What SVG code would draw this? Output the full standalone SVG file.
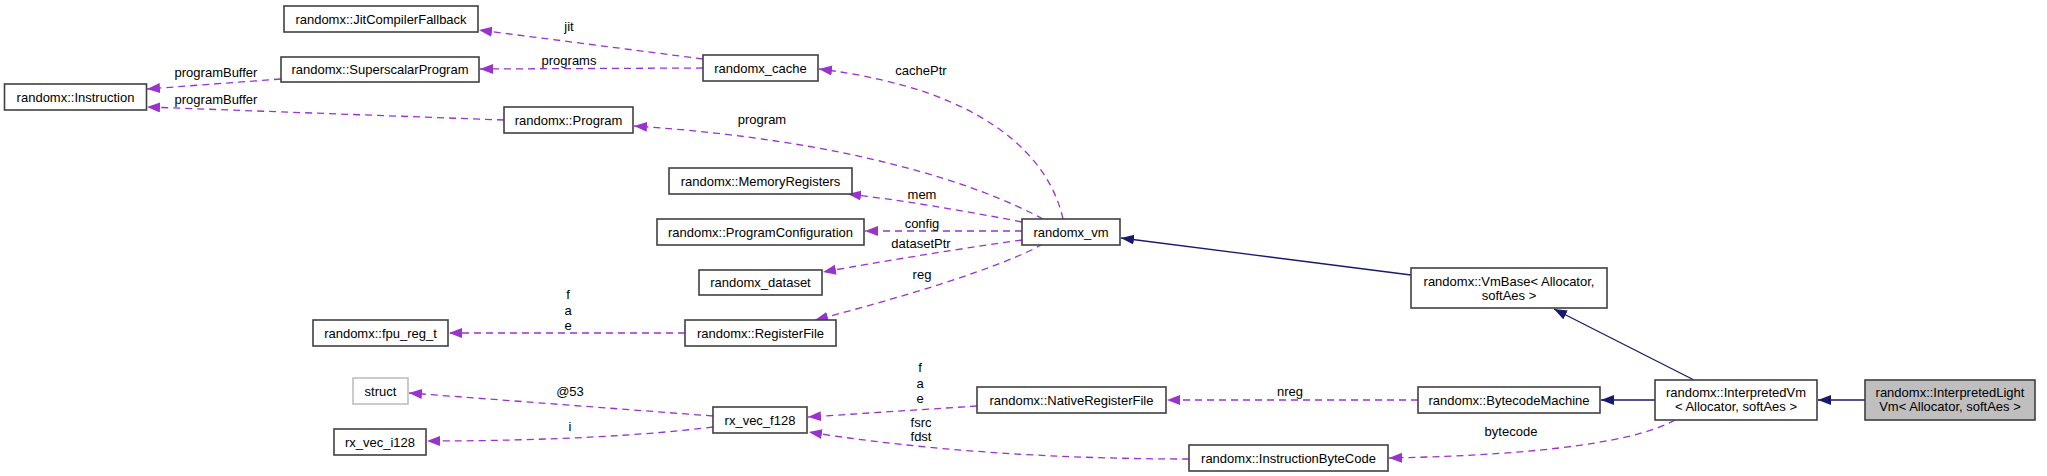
<svg xmlns="http://www.w3.org/2000/svg" width="2047" height="476" viewBox="0 0 2047 476">
<style>
text{font-family:"Liberation Sans",Arial,sans-serif;font-size:13px;fill:#000;text-anchor:middle}
.n rect{fill:#fff;stroke:#404040;stroke-width:1.6}
.n.g rect{stroke:#bfbfbf}
.n.h rect{fill:#bfbfbf}
.u{fill:none;stroke:#9a32cd;stroke-width:1.3;stroke-dasharray:7,5;marker-end:url(#ap)}
.i{fill:none;stroke:#191970;stroke-width:1.3;marker-end:url(#ab)}
</style>
<defs>
<marker id="ap" markerUnits="userSpaceOnUse" markerWidth="14" markerHeight="11" refX="13" refY="5" orient="auto"><path d="M0,0 L13,5 L0,10 z" fill="#9a32cd"/></marker>
<marker id="ab" markerUnits="userSpaceOnUse" markerWidth="14" markerHeight="11" refX="13" refY="5" orient="auto"><path d="M0,0 L13,5 L0,10 z" fill="#191970"/></marker>
</defs>
<rect width="2047" height="476" fill="#fff"/>
<g id="edges">
<path class="i" d="M1865,400 L1818,400"/>
<path class="i" d="M1655,400 L1601,400"/>
<path class="i" d="M1694,380 L1554,309"/>
<path class="i" d="M1411,275 L1121,238"/>
<path class="u" d="M703,59 L479,30"/>
<text x="569" y="31">jit</text>
<path class="u" d="M703,68 L480,69"/>
<text x="569" y="65">programs</text>
<path class="u" d="M281,79 L147,89"/>
<text x="216" y="77">programBuffer</text>
<path class="u" d="M504,120 L147,107"/>
<text x="216" y="104">programBuffer</text>
<path class="u" d="M1063,219 C1050,160 990,90 819,69"/>
<text x="921" y="75">cachePtr</text>
<path class="u" d="M1043,219 C980,185 850,140 634,126"/>
<text x="762" y="124">program</text>
<path class="u" d="M1022,222 C960,210 900,200 848,194"/>
<text x="922" y="199">mem</text>
<path class="u" d="M1022,231 L865,231"/>
<text x="922" y="228">config</text>
<path class="u" d="M1022,240 C950,250 880,262 823,272"/>
<text x="921" y="248">datasetPtr</text>
<path class="u" d="M1043,244 C1000,268 900,298 815,320"/>
<text x="922" y="279">reg</text>
<path class="u" d="M685,333 L449,333"/>
<text x="568" y="299">f</text>
<text x="568" y="315">a</text>
<text x="568" y="330">e</text>
<path class="u" d="M713,416 L409,393"/>
<text x="570" y="396">@53</text>
<path class="u" d="M713,427 C650,435 550,441 427,441"/>
<text x="570" y="431">i</text>
<path class="u" d="M977,406 L808,417"/>
<text x="920" y="372">f</text>
<text x="920" y="388">a</text>
<text x="920" y="403">e</text>
<path class="u" d="M1418,400 L1167,400"/>
<text x="1290" y="396">nreg</text>
<path class="u" d="M1189,459 C1100,459 950,455 809,432"/>
<text x="921" y="427">fsrc</text>
<text x="921" y="441">fdst</text>
<path class="u" d="M1675,420 C1640,440 1550,455 1389,458"/>
<text x="1511" y="436">bytecode</text>
</g>
<g id="jit" class="n"><rect x="284" y="6" width="194" height="26"/><text x="381" y="23.5">randomx::JitCompilerFallback</text></g>
<g id="ssp" class="n"><rect x="281" y="57" width="198" height="25"/><text x="380" y="74">randomx::SuperscalarProgram</text></g>
<g id="instr" class="n"><rect x="4.5" y="84" width="142" height="26"/><text x="75.5" y="101.5">randomx::Instruction</text></g>
<g id="program" class="n"><rect x="504" y="107" width="129" height="26"/><text x="568.5" y="124.5">randomx::Program</text></g>
<g id="cache" class="n"><rect x="703" y="55" width="115" height="26"/><text x="760.5" y="72.5">randomx_cache</text></g>
<g id="memreg" class="n"><rect x="669" y="168" width="183" height="26"/><text x="760.5" y="185.5">randomx::MemoryRegisters</text></g>
<g id="progconf" class="n"><rect x="657" y="219" width="207" height="26"/><text x="760.5" y="236.5">randomx::ProgramConfiguration</text></g>
<g id="vm" class="n"><rect x="1022" y="219" width="98" height="26"/><text x="1071" y="236.5">randomx_vm</text></g>
<g id="dataset" class="n"><rect x="699" y="270" width="123" height="25"/><text x="760.5" y="287">randomx_dataset</text></g>
<g id="regfile" class="n"><rect x="685" y="320" width="151" height="26"/><text x="760.5" y="337.5">randomx::RegisterFile</text></g>
<g id="fpu" class="n"><rect x="313" y="320" width="135" height="26"/><text x="380.5" y="337.5">randomx::fpu_reg_t</text></g>
<g id="struct" class="n g"><rect x="353" y="378" width="55" height="26"/><text x="380.5" y="395.5">struct</text></g>
<g id="i128" class="n"><rect x="334" y="429" width="92" height="26"/><text x="380" y="446.5">rx_vec_i128</text></g>
<g id="f128" class="n"><rect x="713" y="407" width="94" height="26"/><text x="760" y="424.5">rx_vec_f128</text></g>
<g id="native" class="n"><rect x="977" y="387" width="189" height="26"/><text x="1071.5" y="404.5">randomx::NativeRegisterFile</text></g>
<g id="ibc" class="n"><rect x="1189" y="445" width="199" height="26"/><text x="1288.5" y="462.5">randomx::InstructionByteCode</text></g>
<g id="vmbase" class="n"><rect x="1411" y="268" width="196" height="40"/><text x="1509" y="285.5">randomx::VmBase&lt; Allocator,</text><text x="1509" y="299.5">softAes &gt;</text></g>
<g id="bcm" class="n"><rect x="1418" y="387" width="182" height="26"/><text x="1509" y="404.5">randomx::BytecodeMachine</text></g>
<g id="ivm" class="n"><rect x="1655" y="380" width="162" height="40"/><text x="1736" y="397">randomx::InterpretedVm</text><text x="1736" y="411">&lt; Allocator, softAes &gt;</text></g>
<g id="ilvm" class="n h"><rect x="1865" y="380" width="170" height="40"/><text x="1950" y="397">randomx::InterpretedLight</text><text x="1950" y="411">Vm&lt; Allocator, softAes &gt;</text></g>
</svg>
